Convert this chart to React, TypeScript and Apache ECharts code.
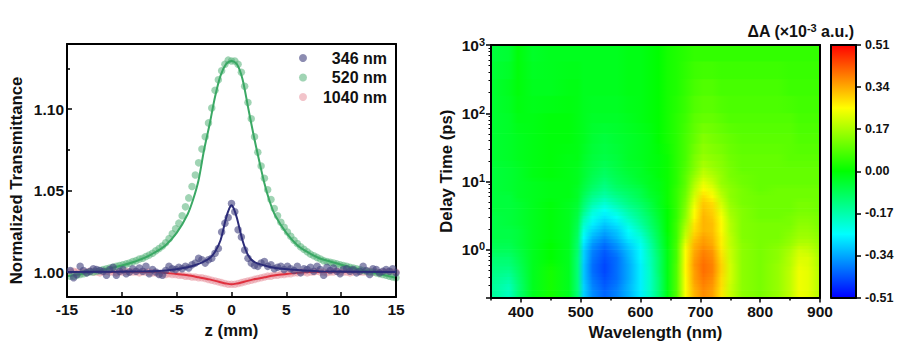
import React, { useEffect, useRef } from "react";
import * as echarts from "echarts";

const scanZ = [-14.7,-14.4,-14.1,-13.8,-13.5,-13.2,-12.9,-12.6,-12.3,-12,-11.7,-11.4,-11.1,-10.8,-10.5,-10.2,-9.9,-9.6,-9.3,-9,-8.7,-8.4,-8.1,-7.8,-7.5,-7.2,-6.9,-6.6,-6.3,-6,-5.7,-5.4,-5.1,-4.8,-4.5,-4.2,-3.9,-3.6,-3.3,-3,-2.7,-2.4,-2.1,-1.8,-1.5,-1.2,-0.9,-0.6,-0.3,0,0.3,0.6,0.9,1.2,1.5,1.8,2.1,2.4,2.7,3,3.3,3.6,3.9,4.2,4.5,4.8,5.1,5.4,5.7,6,6.3,6.6,6.9,7.2,7.5,7.8,8.1,8.4,8.7,9,9.3,9.6,9.9,10.2,10.5,10.8,11.1,11.4,11.7,12,12.3,12.6,12.9,13.2,13.5,13.8,14.1,14.4,14.7,15];
const dots346 = [1.001,0.9965,0.9985,1.0035,1.001,0.9995,1.0005,1.002,1.0015,1.001,1.0005,0.998,1.0015,1.003,0.998,1.0005,1.0015,0.999,1,1.002,1.0005,1.0025,1.0005,1.0035,0.999,1.0015,1,0.9985,0.998,1.001,1.0035,1.002,1.0015,1.003,1.002,1.0035,1.0025,1.0045,1.0055,1.0085,1.0075,1.0055,1.0075,1.0085,1.0115,1.0145,1.0245,1.03,1.0335,1.042,1.037,1.026,1.0215,1.0135,1.0085,1.0055,1.004,1.0035,1.0055,1.0065,1.0035,1.0045,1.002,1.003,1.0035,1.0015,1.0035,1.002,1.001,1.0035,0.9995,1.002,1.0015,1.003,1.0005,1.0035,1.0015,0.998,1.003,1.001,1.0025,1.0005,0.999,1.0015,1.002,1.0005,1.0015,0.9995,1.0005,1.0035,1.001,0.9985,1.002,1.0015,0.9995,1.0005,1.0015,1.0005,1.002,0.9995];
const dots520 = [0.9975,0.9975,0.998,0.9985,0.999,0.9995,1,1,1.0005,1.001,1.0015,1.002,1.0025,1.003,1.0035,1.004,1.0045,1.005,1.0055,1.0065,1.007,1.008,1.0085,1.0095,1.0105,1.0115,1.013,1.0145,1.016,1.018,1.0205,1.0235,1.0265,1.03,1.0345,1.04,1.0455,1.0525,1.0595,1.067,1.0755,1.083,1.0915,1.1006,1.1115,1.118,1.1235,1.1275,1.13,1.1295,1.1295,1.1275,1.1225,1.114,1.104,1.094,1.083,1.0735,1.065,1.0575,1.0505,1.0445,1.039,1.0345,1.0305,1.0275,1.0245,1.022,1.0195,1.0175,1.0155,1.014,1.0125,1.011,1.01,1.009,1.008,1.007,1.0065,1.006,1.0055,1.005,1.0045,1.004,1.0035,1.003,1.0025,1.002,1.0015,1.001,1.0005,1,1,0.9995,0.999,0.9985,0.998,0.9975,0.997,0.9965];
const dots1040 = [1,1.0005,1,0.9995,1,1,1.0005,1,1,0.9995,1,1.0005,1,1,0.9995,1,1,1.0005,1,1,1,0.9995,1,1,1,0.9995,0.9995,0.999,0.999,0.9985,0.999,0.9985,0.9985,0.998,0.998,0.9975,0.9975,0.997,0.997,0.9965,0.9965,0.996,0.9955,0.995,0.9945,0.994,0.9935,0.993,0.9925,0.9925,0.9925,0.993,0.9935,0.994,0.9945,0.995,0.9955,0.996,0.9965,0.997,0.9975,0.9975,0.998,0.998,0.9985,0.9985,0.999,0.999,0.9995,0.9995,1,1,0.9995,1,1,1.0005,1,1,0.9995,1,1,1.0005,1,1,1,0.9995,1,1.0005,1,1,1,1.0005,1,1,0.9995,1,1,1,1,1];

const fit346 = [[-15,1],[-8,1.0005],[-6,1.001],[-4,1.003],[-3,1.005],[-2,1.0085],[-1.5,1.0125],[-1,1.0195],[-0.5,1.033],[-0.2,1.039],[0,1.041],[0.2,1.039],[0.5,1.033],[1,1.0195],[1.5,1.0105],[2,1.0065],[3,1.004],[4,1.0025],[6,1.0012],[8,1.0005],[15,1]];
const fit520 = [[-15,0.9975],[-14,0.9985],[-12,1.001],[-10,1.004],[-9,1.006],[-8,1.0085],[-7,1.012],[-6,1.0165],[-5,1.024],[-4,1.0355],[-3.5,1.0445],[-3,1.0565],[-2.5,1.075],[-2,1.0905],[-1.5,1.1075],[-1,1.1205],[-0.5,1.1275],[0,1.1295],[0.5,1.1275],[1,1.1185],[1.5,1.1015],[2,1.0845],[2.5,1.069],[3,1.0545],[3.5,1.043],[4,1.0345],[5,1.024],[6,1.0165],[7,1.012],[8,1.0085],[9,1.0065],[10,1.0045],[12,1.001],[14,0.998],[15,0.9965]];
const fit1040 = [[-15,1],[-7,1],[-6,0.9995],[-5,0.9988],[-4,0.998],[-3,0.9968],[-2,0.9955],[-1,0.9938],[-0.5,0.993],[0,0.9925],[0.5,0.993],[1,0.9938],[2,0.9955],[3,0.9968],[4,0.998],[5,0.9988],[6,0.9995],[7,1],[15,1]];

const tTicksMajor = [1,1.05,1.1];
const tTicksMinor = [1.025,1.075,1.125];

const wavelengths = [350,380,395,420,450,480,495,505,520,540,560,580,600,615,630,645,660,675,690,705,720,735,750,770,800,830,850,865,880,900];
const rowEdges = [0.2,0.251,0.316,0.398,0.501,0.631,0.794,1,1.259,1.585,1.995,2.512,3.162,3.981,5.012,6.31,7.943,10,12.59,15.85,25.12,50.12,100,316.2,1000];
// ΔA in units of 1e-5 a.u., one list per delay row, bottom row first
const dA = [
[-15,-19,-12,-3,2,-3,-12,-30,-37,-41,-38,-33,-27,-20,-12,-2,8,25,33,37,35,28,20,14,12,15,19,24,23,18],
[-15,-18,-12,-3,2,-3,-12,-30,-38,-42,-39,-33,-27,-20,-12,-2,8,25,34,38,36,29,20,14,12,15,19,24,23,18],
[-14,-16,-11,-3,2,-3,-12,-31,-39,-43,-40,-34,-27,-20,-12,-2,8,25,35,39,37,29,21,14,12,15,19,24,23,18],
[-13,-14,-10,-3,2,-3,-12,-31,-40,-44,-40,-34,-27,-20,-11,-2,8,26,35,40,38,30,21,14,12,15,19,24,23,18],
[-12,-12,-9,-3,1,-3,-12,-31,-40,-44,-40,-34,-27,-19,-11,-2,8,26,36,40,38,30,21,14,12,15,18,23,22,17],
[-11,-11,-8,-3,0,-3,-12,-30,-39,-43,-40,-33,-26,-19,-11,-2,7,25,35,39,37,29,20,14,12,14,18,22,22,17],
[-9,-9,-7,-3,0,-3,-11,-30,-38,-42,-38,-32,-26,-18,-10,-2,7,25,34,38,36,28,20,14,12,14,17,21,20,16],
[-8,-8,-6,-3,0,-3,-11,-28,-36,-40,-36,-30,-24,-17,-9,-1,7,23,33,36,34,27,19,14,12,13,15,18,18,15],
[-7,-7,-6,-3,-1,-3,-10,-26,-33,-37,-33,-27,-22,-15,-8,-1,6,20,31,35,33,27,19,13,12,12,14,16,16,14],
[-7,-7,-6,-3,-1,-3,-9,-23,-30,-34,-31,-25,-19,-13,-7,0,6,18,29,33,32,26,18,13,12,12,13,15,15,13],
[-7,-6,-5,-3,-1,-3,-8,-20,-27,-31,-28,-22,-16,-11,-6,0,6,16,28,33,32,26,18,13,12,12,12,14,14,12],
[-7,-6,-5,-3,-1,-3,-7,-17,-24,-28,-25,-19,-14,-10,-5,0,5,14,26,33,31,25,17,13,11,11,12,13,13,12],
[-6,-6,-5,-3,-1,-3,-6,-13,-21,-25,-21,-16,-12,-8,-4,0,5,13,25,32,30,23,16,13,11,11,11,12,12,11],
[-6,-6,-5,-3,-1,-3,-5,-11,-17,-21,-17,-13,-10,-7,-3,1,5,12,23,31,29,21,15,12,11,11,11,12,12,11],
[-6,-6,-4,-3,-2,-2,-4,-9,-14,-17,-14,-11,-8,-5,-3,1,5,11,21,29,26,19,14,12,11,11,11,11,11,11],
[-6,-5,-4,-3,-2,-2,-4,-7,-11,-14,-11,-9,-7,-4,-2,1,5,10,19,26,23,17,14,12,10,11,11,11,11,11],
[-6,-5,-4,-3,-2,-2,-3,-6,-9,-12,-9,-7,-5,-3,-2,1,4,9,17,23,20,15,13,11,10,10,10,10,10,10],
[-6,-5,-4,-2,-1,-2,-3,-5,-8,-10,-8,-6,-4,-3,-1,1,4,9,15,20,18,15,12,11,10,10,10,10,10,10],
[-6,-5,-4,-2,-1,-2,-3,-5,-7,-9,-7,-5,-4,-2,-1,1,4,8,13,18,16,14,12,10,10,10,10,10,10,10],
[-5,-4,-3,-2,-1,-2,-2,-4,-6,-7,-6,-4,-3,-2,-1,1,4,7,12,15,14,13,11,10,10,10,9,9,9,9],
[-5,-4,-3,-2,-1,-1,-2,-3,-5,-6,-5,-4,-3,-2,0,2,4,7,10,13,12,11,10,9,9,9,9,8,8,8],
[-5,-4,-2,-2,-1,-1,-2,-3,-4,-4,-4,-3,-2,-1,0,2,4,6,9,10,10,9,8,8,8,8,8,7,7,7],
[-5,-3,-1,-3,-3,-2,-2,-3,-3,-3,-3,-2,-2,-1,0,2,3,5,7,8,8,7,7,7,7,7,6,6,6,6],
[-6,-5,-1,-4,-3,-3,-3,-3,-3,-3,-3,-2,-2,-1,0,2,3,4,5,5,5,5,5,5,5,5,5,5,5,5],
];
const scaleStops = [-0.51,-0.255,0,0.255,0.51];
const scaleColors = ["#0000ff","#00ffff","#00ff00","#ffff00","#ff0000"];
const scaleTicks = [-0.51,-0.34,-0.17,0,0.17,0.34,0.51];
const wlLabels = [400,500,600,700,800,900];
const wlMinor = [350,450,550,650,750,850];

const FONT = "Liberation Sans";
const colorOf = (hundredths: number) => echarts.color.lerp((hundredths / 100 + 0.51) / 1.02, scaleColors) as string;
const pair = (ys: number[]) => scanZ.map((z, i) => [z, ys[i]]);
const frameLine = { show: true, onZero: false, lineStyle: { color: "#000", width: 2 } };
const noLine = { show: false, onZero: false };
const labelStyle = { fontFamily: FONT, fontWeight: "bold" as const, fontSize: 15.5, color: "#111" };
const nameStyle = { fontFamily: FONT, fontWeight: "bold" as const, fontSize: 16.7, color: "#111" };

const frameAxis = (gridIndex: number, position: string, min: number, max: number, type = "value") => ({
  type, gridIndex, position, min, max, z: 6, axisLine: frameLine,
  axisTick: { show: false }, axisLabel: { show: false }, splitLine: { show: false },
});

function buildOption() {
  const makeHeatRender = (opacity: number) => (params: any, api: any) => {
    const a = api.coord([api.value(0), api.value(2)]);
    const b = api.coord([api.value(1), api.value(3)]);
    const row = dA[params.dataIndex];
    const span = wavelengths[wavelengths.length - 1] - wavelengths[0];
    const stops = wavelengths.map((w, i) => ({ offset: (w - wavelengths[0]) / span, color: colorOf(row[i]) }));
    return {
      type: "rect",
      shape: { x: a[0], y: b[1] - 0.6, width: b[0] - a[0], height: a[1] - b[1] + 0.6 },
      style: { fill: new echarts.graphic.LinearGradient(0, 0, 1, 0, stops), opacity },
    };
  };
  const scaleRender = (params: any, api: any) => {
    const i = params.dataIndex;
    const lo = api.coord([0, api.value(1)]);
    const hi = api.coord([1, api.value(2)]);
    return {
      type: "rect",
      shape: { x: lo[0], y: hi[1] - 0.5, width: hi[0] - lo[0], height: lo[1] - hi[1] + 0.5 },
      style: {
        fill: new echarts.graphic.LinearGradient(0, 1, 0, 0, [
          { offset: 0, color: scaleColors[i] },
          { offset: 1, color: scaleColors[i + 1] },
        ]),
      },
    };
  };
  const dotSeries = (name: string, ys: number[], color: string, z: number) => ({
    name, type: "scatter", xAxisIndex: 0, yAxisIndex: 0, data: pair(ys), symbol: "circle", symbolSize: 7.5,
    itemStyle: { color }, z, clip: true,
  });
  const fitSeries = (name: string, pts: number[][], color: string, z: number) => ({
    name, type: "line", xAxisIndex: 0, yAxisIndex: 0, data: pts, smooth: 0.3, showSymbol: false, symbol: "none",
    lineStyle: { color, width: 2 }, z,
  });
  const lastWl = wavelengths[wavelengths.length - 1];
  const midEdge = (i: number) => Math.sqrt(rowEdges[i] * rowEdges[i + 1]);
  return {
    animation: false,
    backgroundColor: "#fff",
    textStyle: { fontFamily: FONT },
    grid: [
      { left: 67, top: 44, width: 329, height: 253 },
      { left: 491, top: 45, width: 329, height: 252.5 },
      { left: 831, top: 45, width: 25, height: 252.5 },
    ],
    legend: {
      left: 294, top: 45, orient: "vertical", icon: "circle", itemWidth: 8, itemHeight: 8, itemGap: 3.5,
      data: ["346 nm", "520 nm", "1040 nm"],
      formatter: (n: string) => `{a|${n}}`,
      textStyle: { rich: { a: { width: 75, align: "right", lineHeight: 18, fontFamily: FONT, fontWeight: "bold", fontSize: 16, color: "#111" } } },
    },
    xAxis: [
      { type: "value", gridIndex: 0, position: "bottom", min: -15, max: 15, interval: 5, z: 6, axisLine: frameLine,
        axisTick: { show: true, inside: true, length: 5, lineStyle: { width: 1.5, color: "#000" } },
        axisLabel: { ...labelStyle, margin: 4, showMinLabel: true, showMaxLabel: true, hideOverlap: false },
        splitLine: { show: false },
        name: "z (mm)", nameLocation: "middle", nameGap: 22, nameTextStyle: nameStyle },
      frameAxis(0, "top", -15, 15),
      { type: "value", gridIndex: 1, position: "bottom", min: 350, max: 900, z: 6, axisLine: frameLine,
        axisTick: { show: true, length: 5, customValues: wlLabels, lineStyle: { width: 1.5, color: "#000" } },
        axisLabel: { ...labelStyle, margin: 6, customValues: wlLabels },
        splitLine: { show: false },
        name: "Wavelength (nm)", nameLocation: "middle", nameGap: 26, nameTextStyle: nameStyle },
      { type: "value", gridIndex: 1, position: "bottom", min: 350, max: 900, z: 6, axisLine: noLine,
        axisTick: { show: true, length: 3, customValues: wlMinor, lineStyle: { width: 1.5, color: "#000" } },
        axisLabel: { show: false }, splitLine: { show: false } },
      frameAxis(1, "top", 350, 900),
      { ...frameAxis(2, "bottom", 0, 1) },
      { ...frameAxis(2, "top", 0, 1) },
    ],
    yAxis: [
      { type: "value", gridIndex: 0, position: "left", min: 0.9847, max: 1.1399, z: 6, axisLine: frameLine,
        axisTick: { show: true, inside: true, length: 5, customValues: tTicksMajor, lineStyle: { width: 1.5, color: "#000" } },
        axisLabel: { ...labelStyle, margin: 3, customValues: tTicksMajor, formatter: (v: number) => v.toFixed(2) },
        splitLine: { show: false } },
      { type: "value", gridIndex: 0, position: "left", min: 0.9847, max: 1.1399, z: 6, axisLine: noLine,
        axisTick: { show: true, inside: true, length: 3, customValues: tTicksMinor, lineStyle: { width: 1.5, color: "#000" } },
        axisLabel: { show: false }, splitLine: { show: false } },
      frameAxis(0, "right", 0.9847, 1.1399),
      { type: "log", logBase: 10, gridIndex: 1, position: "left", min: 0.2, max: 1000, z: 6, axisLine: frameLine,
        axisTick: { show: true, length: 5, lineStyle: { width: 1.5, color: "#000" } },
        minorTick: { show: true, splitNumber: 9, length: 2.5, lineStyle: { width: 1, color: "#000" } },
        axisLabel: { ...labelStyle, margin: 6, showMinLabel: false,
          formatter: (v: number) => {
            const e = Math.log10(v);
            return Math.abs(e - Math.round(e)) < 1e-6 ? `{b|10}{s|${Math.round(e)}}` : "";
          },
          rich: {
            b: { fontFamily: FONT, fontWeight: "bold", fontSize: 15.5, color: "#111" },
            s: { fontFamily: FONT, fontWeight: "bold", fontSize: 11, color: "#111", verticalAlign: "bottom", padding: [0, 0, 7, 0] },
          } },
        splitLine: { show: false },
        name: "Delay Time (ps)", nameLocation: "middle", nameGap: 36, nameTextStyle: nameStyle },
      frameAxis(1, "right", 0.2, 1000, "log"),
      frameAxis(2, "left", -0.51, 0.51),
      { type: "value", gridIndex: 2, position: "right", min: -0.51, max: 0.51, z: 6, axisLine: frameLine,
        axisTick: { show: true, length: 5, customValues: scaleTicks, lineStyle: { width: 1.5, color: "#000" } },
        axisLabel: { fontFamily: FONT, fontWeight: "bold", fontSize: 12.5, color: "#111", margin: 9, customValues: scaleTicks,
          formatter: (v: number) => v.toFixed(2) },
        splitLine: { show: false } },
    ],
    graphic: [
      { type: "text", x: 16, y: 180.5, rotation: Math.PI / 2, style: { text: "Normalized Transmittance", align: "center", verticalAlign: "middle", fontFamily: FONT, fontWeight: "bold", fontSize: 16.7, fill: "#111" } },
      { type: "text", x: 854, y: 31, style: {
        text: "ΔA (×10{s|-3} a.u.)", align: "right", verticalAlign: "middle", fontFamily: FONT, fontWeight: "bold", fontSize: 16, fill: "#111",
        rich: { s: { fontFamily: FONT, fontWeight: "bold", fontSize: 11, fill: "#111", verticalAlign: "bottom", padding: [0, 0, 7, 0] } },
      } },
    ],
    series: [
      dotSeries("1040 nm", dots1040, "rgba(232,150,160,0.7)", 2),
      fitSeries("fit 1040", fit1040, "#e0303e", 3),
      dotSeries("520 nm", dots520, "rgba(90,180,125,0.72)", 4),
      fitSeries("fit 520", fit520, "#3aa864", 5),
      dotSeries("346 nm", dots346, "rgba(70,70,130,0.78)", 6),
      fitSeries("fit 346", fit346, "#2b2b78", 7),
      { type: "custom", xAxisIndex: 2, yAxisIndex: 3, renderItem: makeHeatRender(1), clip: true, silent: true, z: 2,
        encode: { x: [0, 1], y: [2, 3] },
        data: dA.map((_, i) => [wavelengths[0], lastWl, rowEdges[i], rowEdges[i + 1]]) },
      { type: "custom", xAxisIndex: 2, yAxisIndex: 3, renderItem: makeHeatRender(0.5), clip: true, silent: true, z: 3,
        encode: { x: [0, 1], y: [2, 3] },
        data: dA.slice(0, -1).map((_, i) => [wavelengths[0], lastWl, midEdge(i), midEdge(i + 1)]) },
      { type: "custom", xAxisIndex: 5, yAxisIndex: 5, renderItem: scaleRender, clip: true, silent: true,
        encode: { y: [1, 2] },
        data: scaleColors.slice(0, -1).map((_, i) => [i, scaleStops[i], scaleStops[i + 1]]) },
    ],
  };
}

export default function App() {
  const ref = useRef<HTMLDivElement>(null);
  useEffect(() => {
    document.body.style.margin = "0";
    const chart = echarts.init(ref.current!, null, { renderer: "svg" });
    chart.setOption(buildOption() as any);
    return () => chart.dispose();
  }, []);
  return <div ref={ref} style={{ width: 917, height: 361 }} />;
}
